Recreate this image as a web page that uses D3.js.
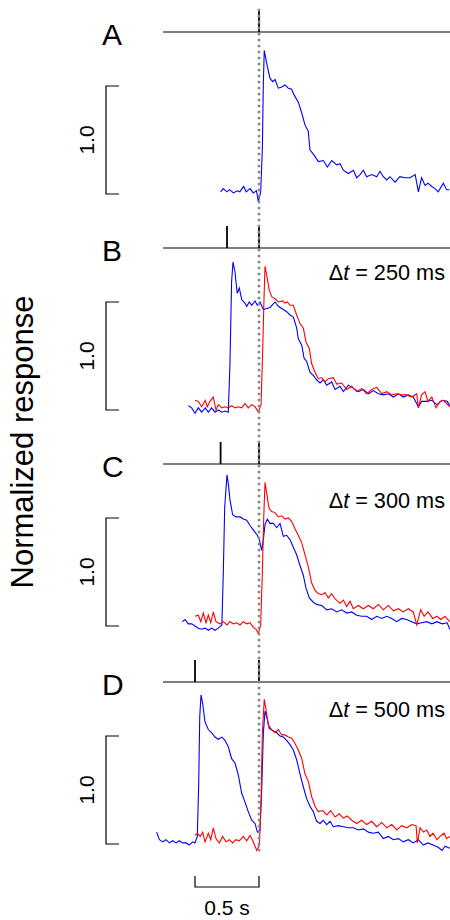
<!DOCTYPE html>
<html>
<head>
<meta charset="utf-8">
<script src="https://cdn.jsdelivr.net/npm/d3@7"></script>
<style>
body { margin: 0; background: #fff; }
text { font-family: "Liberation Sans", Arial, sans-serif; fill: #000; }
</style>
</head>
<body>
<svg></svg>
<script>
var width = 450;
var height = 920;

// panel letters and lead of the first stimulus (ms)
var panelNames = ['A', 'B', 'C', 'D'];
var delays = [0, 250, 300, 500];
var scaleLabel = '1.0';
var timeBarLabel = '0.5 s';
var yLabel = 'Normalized response';

// traces: [time (s) relative to 2nd stimulus, normalized response]
var blueA = [[-0.30,0.02],[-0.28,0.05],[-0.25,0.02],[-0.23,0.04],[-0.20,0.01],[-0.17,0.03],[-0.15,0.02],[-0.12,0.07],[-0.10,0.02],[-0.07,0.05],[-0.045,0.01],[-0.02,0.03],[-0.005,-0.07],[0.013,0.02],[0.026,0.41],[0.034,1.03],[0.041,1.33],[0.06,1.21],[0.086,1.07],[0.107,1.04],[0.125,1.06],[0.151,0.98],[0.177,0.99],[0.203,1.01],[0.229,0.98],[0.255,0.97],[0.273,0.92],[0.307,0.85],[0.334,0.75],[0.359,0.64],[0.385,0.58],[0.398,0.41],[0.43,0.36],[0.463,0.30],[0.502,0.31],[0.534,0.25],[0.568,0.31],[0.607,0.27],[0.633,0.28],[0.659,0.22],[0.698,0.19],[0.737,0.22],[0.763,0.15],[0.789,0.18],[0.815,0.22],[0.841,0.16],[0.88,0.18],[0.92,0.16],[0.945,0.21],[0.971,0.16],[0.998,0.13],[1.023,0.16],[1.063,0.11],[1.10,0.16],[1.14,0.15],[1.18,0.15],[1.22,0.18],[1.245,0.02],[1.27,0.15],[1.297,0.08],[1.32,0.10],[1.35,0.07],[1.375,0.05],[1.40,0.02],[1.44,0.10],[1.466,0.04],[1.487,0.04]];

var blueB = [[-0.552,0.04],[-0.526,0.02],[-0.50,-0.03],[-0.474,0.02],[-0.448,-0.02],[-0.42,0.02],[-0.396,-0.02],[-0.37,0.02],[-0.344,-0.02],[-0.318,0],[-0.29,-0.02],[-0.266,-0.01],[-0.24,-0.02],[-0.227,0.42],[-0.214,1.19],[-0.203,1.37],[-0.188,1.28],[-0.17,1.08],[-0.154,1.13],[-0.135,1.02],[-0.11,0.99],[-0.096,0.96],[-0.076,1.00],[-0.057,0.97],[-0.031,1.01],[-0.013,0.97],[0.008,1.00],[0.034,0.93],[0.06,0.94],[0.086,0.95],[0.125,1.00],[0.151,0.96],[0.19,0.93],[0.216,0.91],[0.242,0.88],[0.268,0.86],[0.294,0.76],[0.307,0.66],[0.334,0.60],[0.352,0.48],[0.372,0.45],[0.398,0.35],[0.424,0.32],[0.45,0.28],[0.477,0.25],[0.502,0.28],[0.529,0.23],[0.568,0.26],[0.594,0.19],[0.633,0.22],[0.659,0.17],[0.698,0.23],[0.737,0.20],[0.776,0.17],[0.815,0.19],[0.854,0.15],[0.893,0.18],[0.932,0.15],[0.971,0.14],[1.01,0.15],[1.05,0.12],[1.09,0.15],[1.127,0.12],[1.166,0.14],[1.205,0.12],[1.245,0.03],[1.27,0.08],[1.31,0.08],[1.35,0.09],[1.39,0.05],[1.43,0.09],[1.47,0.08],[1.49,0.04]];

var redB = [[-0.50,0.09],[-0.474,0.08],[-0.448,0.03],[-0.42,0.09],[-0.404,0.03],[-0.383,0.08],[-0.357,0.12],[-0.336,0.0],[-0.318,0.05],[-0.29,0.02],[-0.266,0.03],[-0.24,0.02],[-0.214,0.04],[-0.188,0.02],[-0.162,0.03],[-0.135,0.02],[-0.11,0.06],[-0.084,0.02],[-0.057,0.05],[-0.031,0.03],[-0.005,-0.02],[0.016,0.05],[0.029,0.57],[0.039,1.03],[0.047,1.33],[0.06,1.25],[0.08,1.11],[0.099,1.05],[0.125,1.03],[0.151,1.00],[0.185,1.01],[0.203,0.99],[0.221,1.00],[0.242,0.97],[0.268,0.97],[0.294,0.88],[0.32,0.80],[0.346,0.76],[0.367,0.63],[0.393,0.57],[0.411,0.43],[0.4375,0.35],[0.463,0.29],[0.49,0.30],[0.516,0.26],[0.541,0.29],[0.58,0.30],[0.607,0.24],[0.646,0.25],[0.685,0.19],[0.724,0.22],[0.763,0.17],[0.802,0.20],[0.841,0.15],[0.88,0.19],[0.92,0.21],[0.959,0.15],[0.998,0.17],[1.037,0.14],[1.076,0.15],[1.115,0.14],[1.154,0.14],[1.193,0.12],[1.232,0.15],[1.245,0.02],[1.27,0.14],[1.297,0.17],[1.32,0.08],[1.35,0.12],[1.383,0.02],[1.414,0.08],[1.44,0.09],[1.466,0.06],[1.49,0.03]];

var blueC = [[-0.599,0.04],[-0.578,0.06],[-0.552,0.02],[-0.526,0.02],[-0.50,0.0],[-0.474,-0.02],[-0.448,-0.03],[-0.42,-0.02],[-0.396,-0.04],[-0.37,-0.02],[-0.344,-0.04],[-0.318,-0.02],[-0.29,0.01],[-0.279,0.49],[-0.268,1.10],[-0.25,1.40],[-0.24,1.32],[-0.227,1.17],[-0.206,1.03],[-0.18,1.01],[-0.148,1.01],[-0.123,0.99],[-0.096,0.98],[-0.07,0.93],[-0.045,0.89],[-0.013,0.84],[0.003,0.80],[0.021,0.70],[0.034,0.80],[0.047,0.94],[0.065,0.99],[0.086,0.95],[0.112,0.95],[0.138,0.91],[0.164,0.95],[0.19,0.83],[0.216,0.84],[0.242,0.80],[0.268,0.73],[0.294,0.66],[0.32,0.56],[0.346,0.47],[0.367,0.35],[0.393,0.26],[0.424,0.22],[0.45,0.20],[0.49,0.19],[0.529,0.15],[0.568,0.16],[0.607,0.13],[0.646,0.15],[0.685,0.12],[0.724,0.13],[0.763,0.10],[0.802,0.09],[0.841,0.09],[0.88,0.06],[0.92,0.09],[0.959,0.07],[0.998,0.09],[1.037,0.07],[1.076,0.04],[1.115,0.07],[1.154,0.06],[1.193,0.04],[1.232,0.02],[1.27,0.03],[1.31,0.04],[1.35,0.02],[1.39,0.04],[1.43,0.02],[1.47,0.03],[1.49,-0.03]];

var redC = [[-0.50,0.09],[-0.474,0.10],[-0.455,0.04],[-0.435,0.12],[-0.414,0.03],[-0.396,0.10],[-0.377,0.03],[-0.357,0.13],[-0.336,0.04],[-0.305,0.02],[-0.279,0.04],[-0.25,0.01],[-0.227,0.04],[-0.20,0.02],[-0.174,0.03],[-0.148,0.01],[-0.123,0.04],[-0.096,0.02],[-0.07,0.03],[-0.045,-0.01],[-0.023,-0.03],[-0.005,-0.07],[0.013,0.01],[0.026,0.49],[0.037,1.01],[0.047,1.33],[0.06,1.23],[0.078,1.09],[0.099,1.06],[0.125,1.05],[0.151,1.01],[0.177,1.02],[0.203,0.99],[0.229,1.00],[0.255,0.97],[0.281,0.90],[0.307,0.84],[0.334,0.77],[0.359,0.66],[0.385,0.55],[0.411,0.40],[0.4375,0.33],[0.463,0.30],[0.49,0.29],[0.516,0.31],[0.541,0.26],[0.568,0.30],[0.594,0.25],[0.633,0.21],[0.659,0.24],[0.685,0.18],[0.711,0.23],[0.737,0.16],[0.776,0.19],[0.815,0.16],[0.854,0.19],[0.893,0.16],[0.932,0.20],[0.971,0.15],[1.01,0.19],[1.05,0.14],[1.09,0.16],[1.127,0.13],[1.166,0.16],[1.205,0.13],[1.232,0.01],[1.263,0.15],[1.29,0.09],[1.32,0.13],[1.357,0.07],[1.39,0.09],[1.42,0.06],[1.453,0.09],[1.49,0.04]];

var blueD = [[-0.80,0.11],[-0.778,0.04],[-0.752,0.02],[-0.727,0.04],[-0.70,0.01],[-0.674,0.03],[-0.648,0.01],[-0.623,0.03],[-0.596,0.01],[-0.57,0.01],[-0.545,-0.01],[-0.518,0.02],[-0.50,0.01],[-0.482,0.07],[-0.471,0.56],[-0.463,1.18],[-0.453,1.38],[-0.44,1.30],[-0.422,1.13],[-0.396,1.06],[-0.37,1.03],[-0.344,0.99],[-0.318,0.97],[-0.29,0.99],[-0.266,0.96],[-0.24,0.90],[-0.214,0.79],[-0.1875,0.75],[-0.162,0.64],[-0.135,0.47],[-0.11,0.39],[-0.084,0.30],[-0.057,0.22],[-0.031,0.19],[-0.013,0.11],[0.008,0.13],[0.021,0.50],[0.034,1.03],[0.047,1.23],[0.06,1.18],[0.08,1.07],[0.107,1.05],[0.138,1.03],[0.164,1.00],[0.19,0.99],[0.216,0.96],[0.242,0.92],[0.268,0.87],[0.294,0.78],[0.32,0.65],[0.346,0.53],[0.372,0.42],[0.398,0.35],[0.424,0.30],[0.45,0.21],[0.477,0.19],[0.502,0.22],[0.529,0.18],[0.555,0.21],[0.58,0.16],[0.62,0.17],[0.659,0.16],[0.698,0.15],[0.737,0.15],[0.776,0.13],[0.815,0.14],[0.854,0.11],[0.893,0.10],[0.932,0.11],[0.971,0.05],[1.01,0.07],[1.05,0.04],[1.09,0.05],[1.127,0.02],[1.166,0.04],[1.205,0.01],[1.245,0.04],[1.284,-0.01],[1.32,0.01],[1.36,-0.01],[1.40,-0.03],[1.43,-0.06],[1.453,-0.02],[1.49,-0.04]];

var redD = [[-0.50,0.08],[-0.482,0.10],[-0.46,0.07],[-0.44,0.11],[-0.422,0.02],[-0.396,0.10],[-0.377,0.04],[-0.357,0.15],[-0.336,0.05],[-0.31,0.01],[-0.284,0.07],[-0.258,0.02],[-0.232,0.04],[-0.206,0.01],[-0.18,0.04],[-0.154,0.03],[-0.123,0.07],[-0.096,0.03],[-0.07,0.08],[-0.045,0.02],[-0.018,-0.06],[0.003,-0.01],[0.016,0.41],[0.026,1.03],[0.041,1.34],[0.055,1.24],[0.073,1.10],[0.099,1.06],[0.125,1.03],[0.151,1.06],[0.177,1.01],[0.203,1.01],[0.229,0.99],[0.255,0.98],[0.281,0.93],[0.307,0.87],[0.334,0.79],[0.359,0.65],[0.385,0.58],[0.411,0.44],[0.4375,0.35],[0.463,0.30],[0.498,0.31],[0.529,0.27],[0.56,0.31],[0.594,0.25],[0.627,0.28],[0.659,0.24],[0.69,0.26],[0.724,0.22],[0.763,0.19],[0.802,0.22],[0.841,0.18],[0.88,0.21],[0.92,0.16],[0.959,0.20],[0.998,0.15],[1.037,0.18],[1.076,0.13],[1.115,0.17],[1.154,0.15],[1.193,0.18],[1.227,0.17],[1.237,0.01],[1.258,0.15],[1.284,0.11],[1.31,0.13],[1.336,0.07],[1.36,0.10],[1.39,0.04],[1.414,0.07],[1.445,0.10],[1.466,0.05],[1.49,0.07]];

var blueTraces = [blueA, blueB, blueC, blueD];
var redTraces = [null, redB, redC, redD];

// layout
var stimY = [32, 248, 464, 682];   // stimulus line of each panel
var labelDy = [0, 32, 44, 35];     // offset of the delta-t text
var scaleH = 108;                  // pixels for 1.0

var svg = d3.select('svg')
    .attr('width', width)
    .attr('height', height);

svg.append('rect')
    .attr('width', width)
    .attr('height', height)
    .attr('fill', '#fff');

// time axis shared by all panels
var x = d3.scaleLinear()
    .domain([-0.75, 1.492])
    .range([163, 450]);

panelNames.forEach(function (name, i) {
    var top = stimY[i];
    var bottom = top + 162;
    var y = d3.scaleLinear()
        .domain([0, 1])
        .range([bottom, bottom - scaleH]);

    var g = svg.append('g').classed('panel', true);

    // stimulus line and stimulus marks
    g.append('line')
        .attr('x1', x.range()[0]).attr('x2', x.range()[1])
        .attr('y1', top).attr('y2', top)
        .attr('stroke', 'black')
        .attr('stroke-width', 1.2);

    var stims = delays[i] ? [-delays[i] / 1000, 0] : [0];
    g.selectAll('.stim')
        .data(stims)
        .enter()
        .append('line')
            .classed('stim', true)
            .attr('x1', d => x(d)).attr('x2', d => x(d))
            .attr('y1', top).attr('y2', top - 22)
            .attr('stroke', 'black')
            .attr('stroke-width', 1.8);

    // panel letter
    g.append('text')
        .attr('x', 102)
        .attr('y', top + 13)
        .attr('font-size', 30)
        .text(name);

    // 1.0 scale bracket
    var bx = 106;
    g.append('path')
        .attr('d', d3.line()([[bx + 13, y(1)], [bx, y(1)], [bx, y(0)], [bx + 13, y(0)]]))
        .attr('fill', 'none')
        .attr('stroke', 'black')
        .attr('stroke-width', 1.2);

    g.append('text')
        .attr('transform', `translate(94, ${y(0.5)}) rotate(-90)`)
        .attr('text-anchor', 'middle')
        .attr('font-size', 21)
        .text(scaleLabel);

    // delta t label
    if (delays[i]) {
        var t = g.append('text')
            .attr('x', 445)
            .attr('y', top + labelDy[i])
            .attr('text-anchor', 'end')
            .attr('font-size', 21.7);
        t.append('tspan').text('\u0394');
        t.append('tspan').attr('font-style', 'italic').text('t');
        t.append('tspan').text(' = ' + delays[i] + ' ms');
    }

    var line = d3.line()
        .x(d => x(d[0]))
        .y(d => y(d[1]));

    g.append('path')
        .datum(blueTraces[i])
        .attr('d', line)
        .attr('fill', 'none')
        .attr('stroke', '#0000ff')
        .attr('stroke-width', 1.1);

    if (redTraces[i]) {
        g.append('path')
            .datum(redTraces[i])
            .attr('d', line)
            .attr('fill', 'none')
            .attr('stroke', '#ff0000')
            .attr('stroke-width', 1.1);
    }
});

// dotted line at the 2nd stimulus
svg.append('line')
    .attr('x1', x(0)).attr('x2', x(0))
    .attr('y1', 10).attr('y2', 856)
    .attr('stroke', '#8a8a8a')
    .attr('stroke-width', 3)
    .attr('stroke-linecap', 'round')
    .attr('stroke-dasharray', '0,6');

// y label
svg.append('text')
    .attr('transform', 'translate(33, 442) rotate(-90)')
    .attr('text-anchor', 'middle')
    .attr('font-size', 31)
    .text(yLabel);

// 0.5 s time bar
var barY = 887;
svg.append('path')
    .attr('d', d3.line()([[x(-0.5), barY - 11], [x(-0.5), barY], [x(0), barY], [x(0), barY - 11]]))
    .attr('fill', 'none')
    .attr('stroke', 'black')
    .attr('stroke-width', 1.2);

svg.append('text')
    .attr('x', x(-0.25))
    .attr('y', 915)
    .attr('text-anchor', 'middle')
    .attr('font-size', 21)
    .text(timeBarLabel);
</script>
</body>
</html>
